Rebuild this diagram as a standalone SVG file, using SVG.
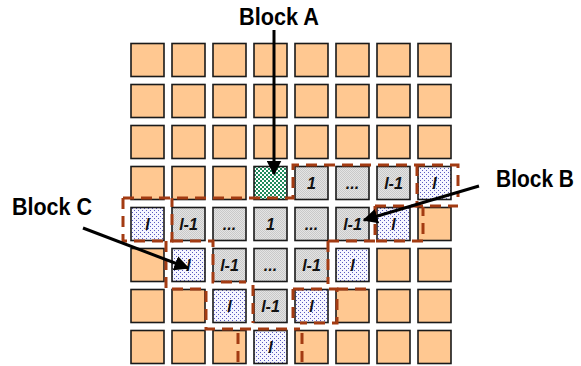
<svg xmlns="http://www.w3.org/2000/svg" width="581" height="366" viewBox="0 0 581 366">
<style>
.c{stroke:#1a1a1a;stroke-width:1.6}
.o{fill:#FFC891}
.g{fill:url(#pg)}
.d{fill:url(#pd)}
.a{fill:url(#pa)}
.t{font-family:"Liberation Sans",Arial,sans-serif;font-weight:bold;font-style:italic;font-size:16px;text-anchor:middle;fill:#111}
.lb{font-family:"Liberation Sans",Arial,sans-serif;font-weight:bold;font-size:23px;fill:#000}
.ds{fill:none;stroke:#A33B12;stroke-width:3;stroke-dasharray:11 7}
.ar{fill:none;stroke:#000;stroke-width:3;marker-end:url(#ah)}
</style>
<defs>
<pattern id="pg" width="2" height="2" patternUnits="userSpaceOnUse"><rect width="2" height="2" fill="#E4E4E4"/><rect width="1" height="1" fill="#C9C9C9"/><rect x="1" y="1" width="1" height="1" fill="#C9C9C9"/></pattern>
<pattern id="pd" width="4" height="4" patternUnits="userSpaceOnUse"><rect width="4" height="4" fill="#F6F6FF"/><rect width="1" height="1" fill="#5A5AC0"/><rect x="2" y="2" width="1" height="1" fill="#5A5AC0"/></pattern>
<pattern id="pa" width="4" height="4" patternUnits="userSpaceOnUse"><rect width="4" height="4" fill="#FFFFFF"/><rect width="2" height="2" fill="#1F8A5C"/><rect x="2" y="2" width="2" height="2" fill="#1F8A5C"/></pattern>
<marker id="ah" viewBox="0 0 10 10" refX="9" refY="5" markerWidth="5" markerHeight="5" orient="auto"><path d="M0,0 L10,5 L0,10 z" fill="#000"/></marker>
</defs>

<g id="grid">
<g id="r0">
<rect class="c o" x="131" y="43.5" width="33" height="33"/><rect class="c o" x="172" y="43.5" width="33" height="33"/><rect class="c o" x="213" y="43.5" width="33" height="33"/><rect class="c o" x="254" y="43.5" width="33" height="33"/><rect class="c o" x="295" y="43.5" width="33" height="33"/><rect class="c o" x="336" y="43.5" width="33" height="33"/><rect class="c o" x="377" y="43.5" width="33" height="33"/><rect class="c o" x="418" y="43.5" width="33" height="33"/>
</g>
<g id="r1">
<rect class="c o" x="131" y="84.5" width="33" height="33"/><rect class="c o" x="172" y="84.5" width="33" height="33"/><rect class="c o" x="213" y="84.5" width="33" height="33"/><rect class="c o" x="254" y="84.5" width="33" height="33"/><rect class="c o" x="295" y="84.5" width="33" height="33"/><rect class="c o" x="336" y="84.5" width="33" height="33"/><rect class="c o" x="377" y="84.5" width="33" height="33"/><rect class="c o" x="418" y="84.5" width="33" height="33"/>
</g>
<g id="r2">
<rect class="c o" x="131" y="125.5" width="33" height="33"/><rect class="c o" x="172" y="125.5" width="33" height="33"/><rect class="c o" x="213" y="125.5" width="33" height="33"/><rect class="c o" x="254" y="125.5" width="33" height="33"/><rect class="c o" x="295" y="125.5" width="33" height="33"/><rect class="c o" x="336" y="125.5" width="33" height="33"/><rect class="c o" x="377" y="125.5" width="33" height="33"/><rect class="c o" x="418" y="125.5" width="33" height="33"/>
</g>
<g id="r3">
<rect class="c o" x="131" y="166.5" width="33" height="33"/><rect class="c o" x="172" y="166.5" width="33" height="33"/><rect class="c o" x="213" y="166.5" width="33" height="33"/>
<rect id="blockA" class="c a" x="254" y="166.5" width="33" height="33"/>
<rect class="c g" x="295" y="166.5" width="33" height="33"/><text class="t" x="311.5" y="189">1</text>
<rect class="c g" x="336" y="166.5" width="33" height="33"/><text class="t" x="352.5" y="189">...</text>
<rect class="c g" x="377" y="166.5" width="33" height="33"/><text class="t" x="393.5" y="189">l-1</text>
<rect class="c d" x="418" y="166.5" width="33" height="33"/><text class="t" x="434.5" y="189">l</text>
</g>
<g id="r4">
<rect class="c d" x="131" y="207.5" width="33" height="33"/><text class="t" x="147.5" y="230">l</text>
<rect class="c g" x="172" y="207.5" width="33" height="33"/><text class="t" x="188.5" y="230">l-1</text>
<rect class="c g" x="213" y="207.5" width="33" height="33"/><text class="t" x="229.5" y="230">...</text>
<rect class="c g" x="254" y="207.5" width="33" height="33"/><text class="t" x="270.5" y="230">1</text>
<rect class="c g" x="295" y="207.5" width="33" height="33"/><text class="t" x="311.5" y="230">...</text>
<rect class="c g" x="336" y="207.5" width="33" height="33"/><text class="t" x="352.5" y="230">l-1</text>
<rect class="c d" x="377" y="207.5" width="33" height="33"/><text class="t" x="393.5" y="230">l</text>
<rect class="c o" x="418" y="207.5" width="33" height="33"/>
</g>
<g id="r5">
<rect class="c o" x="131" y="248.5" width="33" height="33"/>
<rect class="c d" x="172" y="248.5" width="33" height="33"/><text class="t" x="188.5" y="271">l</text>
<rect class="c g" x="213" y="248.5" width="33" height="33"/><text class="t" x="229.5" y="271">l-1</text>
<rect class="c g" x="254" y="248.5" width="33" height="33"/><text class="t" x="270.5" y="271">...</text>
<rect class="c g" x="295" y="248.5" width="33" height="33"/><text class="t" x="311.5" y="271">l-1</text>
<rect class="c d" x="336" y="248.5" width="33" height="33"/><text class="t" x="352.5" y="271">l</text>
<rect class="c o" x="377" y="248.5" width="33" height="33"/><rect class="c o" x="418" y="248.5" width="33" height="33"/>
</g>
<g id="r6">
<rect class="c o" x="131" y="289.5" width="33" height="33"/><rect class="c o" x="172" y="289.5" width="33" height="33"/>
<rect class="c d" x="213" y="289.5" width="33" height="33"/><text class="t" x="229.5" y="312">l</text>
<rect class="c g" x="254" y="289.5" width="33" height="33"/><text class="t" x="270.5" y="312">l-1</text>
<rect class="c d" x="295" y="289.5" width="33" height="33"/><text class="t" x="311.5" y="312">l</text>
<rect class="c o" x="336" y="289.5" width="33" height="33"/><rect class="c o" x="377" y="289.5" width="33" height="33"/><rect class="c o" x="418" y="289.5" width="33" height="33"/>
</g>
<g id="r7">
<rect class="c o" x="131" y="330.5" width="33" height="33"/><rect class="c o" x="172" y="330.5" width="33" height="33"/><rect class="c o" x="213" y="330.5" width="33" height="33"/>
<rect class="c d" x="254" y="330.5" width="33" height="33"/><text class="t" x="270.5" y="353">l</text>
<rect class="c o" x="295" y="330.5" width="33" height="33"/><rect class="c o" x="336" y="330.5" width="33" height="33"/><rect class="c o" x="377" y="330.5" width="33" height="33"/><rect class="c o" x="418" y="330.5" width="33" height="33"/>
</g>
</g>

<g id="dashed-blocks">
<path class="ds" d="M123,198 H293 V165 H458 V197"/>
<path class="ds" d="M417,165 V206 H458"/>
<path class="ds" d="M375,206 H417 M375,206 V241 H423 V207"/>
<path class="ds" d="M123,198 V241 H172 V198"/>
<path class="ds" d="M172,241 H213 V282 H246"/>
<path class="ds" d="M166,241 V289 H206 V329 H300"/>
<path class="ds" d="M328,241 H375 M328,241 V284"/>
<path class="ds" d="M253,285 V323 M293,289 H337 V323 H300 M293,289 V323"/>
<path class="ds" d="M337,289 H372"/>
<path class="ds" d="M238,333 V366 M302,333 V366"/>
</g>

<g id="connectors">
<line class="ar" x1="274" y1="30" x2="274" y2="174"/>
<line class="ar" x1="479" y1="186" x2="364" y2="220"/>
<line class="ar" x1="83" y1="228" x2="188" y2="268"/>
</g>

<g id="labels">
<text id="labelA" class="lb" x="239" y="25" textLength="80" lengthAdjust="spacingAndGlyphs">Block A</text>
<text id="labelB" class="lb" x="496" y="187" textLength="78" lengthAdjust="spacingAndGlyphs">Block B</text>
<text id="labelC" class="lb" x="12" y="215" textLength="80" lengthAdjust="spacingAndGlyphs">Block C</text>
</g>
</svg>
